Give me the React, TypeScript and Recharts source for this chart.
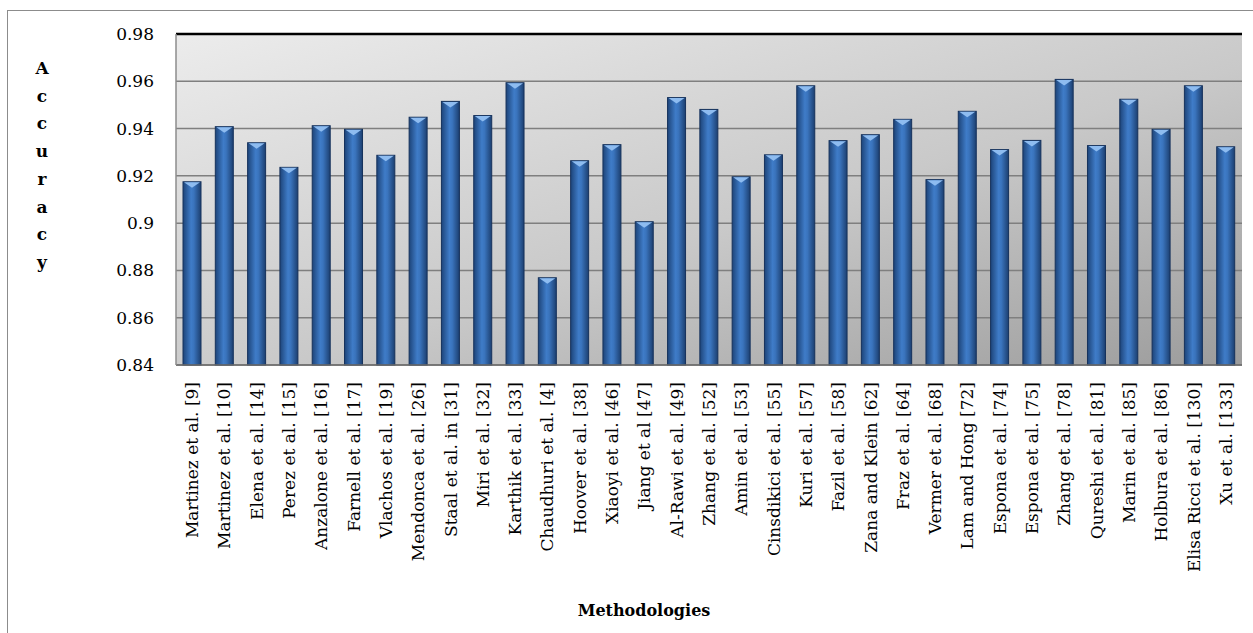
import React from 'react'
import {
  BarChart,
  Bar,
  XAxis,
  YAxis,
  CartesianGrid,
  ReferenceLine,
  Label,
} from 'recharts'

const methods = [
  'Martinez et al. [9]',
  'Martinez et al. [10]',
  'Elena et al. [14]',
  'Perez et al. [15]',
  'Anzalone et al. [16]',
  'Farnell et al. [17]',
  'Vlachos et al. [19]',
  'Mendonca et al. [26]',
  'Staal et al. in [31]',
  'Miri et al. [32]',
  'Karthik et al. [33]',
  'Chaudhuri et al. [4]',
  'Hoover et al. [38]',
  'Xiaoyi et al. [46]',
  'Jiang et al [47]',
  'Al-Rawi et al. [49]',
  'Zhang et al. [52]',
  'Amin et al. [53]',
  'Cinsdikici et al. [55]',
  'Kuri et al. [57]',
  'Fazil et al. [58]',
  'Zana and Klein [62]',
  'Fraz et al. [64]',
  'Vermer et al. [68]',
  'Lam and Hong [72]',
  'Espona et al. [74]',
  'Espona et al. [75]',
  'Zhang et al. [78]',
  'Qureshi et al. [81]',
  'Marin et al. [85]',
  'Holbura et al. [86]',
  'Elisa Ricci et al. [130]',
  'Xu et al. [133]',
]

const accuracy = [
  0.9175, 0.9408, 0.934, 0.9236, 0.9412, 0.9397, 0.9287, 0.9448, 0.9515, 0.9455,
  0.9594, 0.8769, 0.9264, 0.9332, 0.9006, 0.9531, 0.9481, 0.9196, 0.9289, 0.9581,
  0.9349, 0.9374, 0.9439, 0.9184, 0.9473, 0.9311, 0.935, 0.9608, 0.9328, 0.9524,
  0.9397, 0.9581, 0.9323,
]

const yTicks = [0.84, 0.86, 0.88, 0.9, 0.92, 0.94, 0.96, 0.98]

const FONT = '"DejaVu Serif", serif'

const data = methods.map((m, i) => ({ method: m, accuracy: accuracy[i] }))

const MethodTick = ({ x, y, payload }: any) => (
  <text
    x={0}
    y={0}
    transform={`translate(${x + 6}, ${y + 9}) rotate(-90)`}
    textAnchor="end"
    fontFamily={FONT}
    fontSize={17}
    fill="#000"
  >
    {payload.value}
  </text>
)

// bevelled bar: horizontal gradient body with a lighter notch on top
const BevelBar = ({ x, y, width, height }: any) => {
  if (height <= 0) return null
  return (
    <g>
      <rect x={x} y={y} width={width} height={height} fill="url(#barBody)" stroke="#16325c" strokeWidth={1} />
      <polygon
        points={`${x + 1},${y + 0.5} ${x + width - 1},${y + 0.5} ${x + width / 2},${y + 6}`}
        fill="#8ebcf0"
      />
    </g>
  )
}

const StackedTitle = () => {
  const letters = 'Accuracy'.split('')
  return (
    <text fontFamily={FONT} fontSize={17} fontWeight="bold" textAnchor="middle" fill="#000">
      {letters.map((ch, i) => (
        <tspan key={i} x={42} y={74 + i * 27.7}>
          {ch}
        </tspan>
      ))}
    </text>
  )
}

export default function App() {
  return (
    <div style={{ position: 'absolute', left: 0, top: 0, width: 1253, height: 633, background: '#fff' }}>
      <div
        style={{
          position: 'absolute',
          left: 7,
          top: 10,
          width: 1260,
          height: 640,
          border: '1px solid #8c8c8c',
        }}
      />
      <BarChart
        width={1253}
        height={633}
        data={data}
        margin={{ top: 34, right: 11, left: 116, bottom: 0 }}
        barSize={18}
        style={{ position: 'absolute', left: 0, top: 0 }}
      >
        <defs>
          <linearGradient id="plotBg" x1="0" y1="0" x2="1" y2="1">
            <stop offset="0%" stopColor="#ececec" />
            <stop offset="55%" stopColor="#c9c9c9" />
            <stop offset="100%" stopColor="#9c9c9c" />
          </linearGradient>
          <linearGradient id="barBody" x1="0" y1="0" x2="1" y2="0">
            <stop offset="0%" stopColor="#1d4479" />
            <stop offset="45%" stopColor="#3f7cc8" />
            <stop offset="60%" stopColor="#3a74bd" />
            <stop offset="100%" stopColor="#1c3f70" />
          </linearGradient>
        </defs>
        <CartesianGrid
          vertical={false}
          stroke="#7f7f7f"
          strokeWidth={1.5}
          fill="url(#plotBg)"
          fillOpacity={1}
        />
        <XAxis
          dataKey="method"
          interval={0}
          height={268}
          tick={<MethodTick />}
          tickLine={false}
          axisLine={{ stroke: '#6d6d6d', strokeWidth: 1.5 }}
        >
          <Label
            content={() => (
              <text x={644} y={616} textAnchor="middle" fontFamily={FONT} fontSize={16} fontWeight="bold" fill="#000">
                Methodologies
              </text>
            )}
          />
        </XAxis>
        <YAxis
          domain={[0.84, 0.98]}
          ticks={yTicks}
          width={60}
          tickLine={false}
          tickMargin={16}
          axisLine={{ stroke: '#8c8c8c', strokeWidth: 1.5 }}
          tick={{ fill: '#000', fontSize: 17, fontFamily: FONT }}
        >
          <Label content={() => <StackedTitle />} />
        </YAxis>
        <YAxis
          yAxisId="frame"
          orientation="right"
          domain={[0.84, 0.98]}
          width={0}
          tick={false}
          tickLine={false}
          axisLine={{ stroke: '#000', strokeWidth: 2 }}
        />
        <ReferenceLine y={0.98} stroke="#000" strokeWidth={2.5} />
        <Bar dataKey="accuracy" shape={<BevelBar />} isAnimationActive={false} />
      </BarChart>
    </div>
  )
}
